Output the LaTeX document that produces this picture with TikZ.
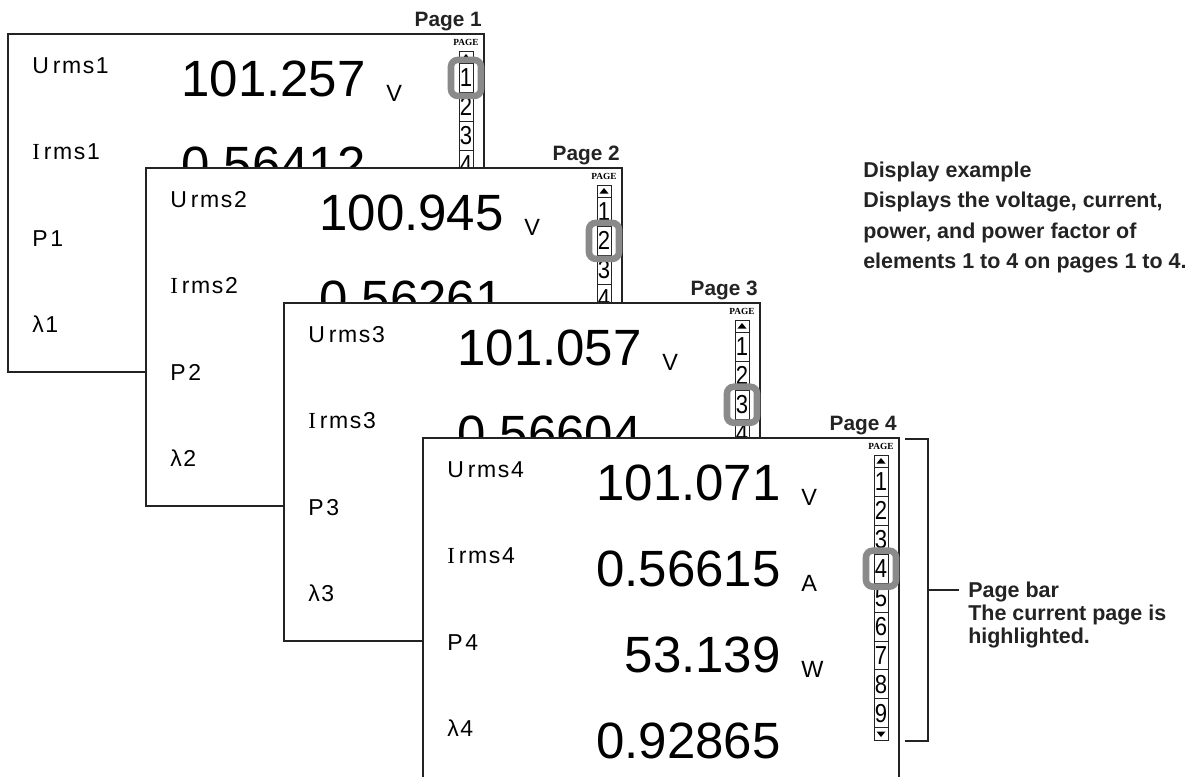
\documentclass[tikz,border=0pt]{standalone}
\usepackage{fontspec}
\setmainfont{Liberation Sans}
\newfontfamily\serifI{Liberation Serif}
\newfontfamily\narrowdig[FakeStretch=0.85]{Liberation Sans}
\newfontfamily\lblfont[LetterSpace=7]{Liberation Sans}
\definecolor{hlgray}{RGB}{138,138,138}
\definecolor{ink}{RGB}{35,35,35}
\tikzset{
 panelbox/.style={draw=ink, line width=1.6pt, fill=white, anchor=north west, minimum width=357pt, inner sep=0, outer sep=0},
 lbl/.style={anchor=base west, inner sep=0, font=\fontsize{17.25pt}{20pt}\lblfont},
 num/.style={anchor=base east, inner sep=0, font=\fontsize{38.25pt}{40pt}\selectfont},
 unit/.style={anchor=base west, inner sep=0, font=\fontsize{17.6pt}{20pt}\selectfont},
 pagelbl/.style={anchor=base east, inner sep=0, font=\fontsize{15.6pt}{18pt}\selectfont\bfseries, text=ink},
 pagetag/.style={inner sep=0, font=\fontsize{7pt}{8pt}\serifI\bfseries},
 barline/.style={draw=ink, line width=0.6pt},
 bardig/.style={inner sep=0, font=\fontsize{19.5pt}{20pt}\narrowdig},
 hlbox/.style={draw=hlgray, line width=4.9pt, rounded corners=5pt, minimum width=22.5pt, minimum height=27pt, inner sep=0},
 desc/.style={anchor=base west, inner sep=0, font=\fontsize{16.1pt}{20pt}\selectfont\bfseries, text=ink},
 bracket/.style={draw=ink, line width=1pt},
}
% #1 X, #2 Y, #3 page, #4 first value, #5 second value, #6 panel height, #7 last page cell drawn
\newcommand\drawpanel[7]{%
 \node[panelbox, minimum height=#6] (pan#3) at (#1,#2) {};
 \node[lbl] (u#3) at ({#1+24},{#2+39}) {U\kern3pt rms#3};
 \node[lbl] (i#3) at ({#1+24},{#2+125.5}) {{\serifI I}\kern3pt rms#3};
 \node[lbl] (p#3) at ({#1+24},{#2+212}) {P\kern2pt #3};
 \node[lbl] (l#3) at ({#1+24},{#2+298.5}) {λ#3};
 \node[num] (va#3) at ({#1+358},{#2+62}) {#4};
 \node[unit] (ua#3) at ({#1+378},{#2+67}) {V};
 \node[num] (vb#3) at ({#1+358},{#2+148}) {#5};
 \node[pagelbl] (t#3) at ({#1+474},{#2-8}) {Page #3};
 \node[pagetag] (pg#3) at ({#1+458},{#2+8}) {PAGE};
 \draw[barline] ({#1+451},{#2+17}) rectangle ({#1+465},{#2+29.5+#7*28.9});
 \foreach \k in {0,...,#7} {\draw[barline] ({#1+451},{#2+29.5+\k*28.9}) -- ++(14,0);}
 \foreach \k in {1,...,#7} {\node[bardig] (d#3-\k) at ({#1+458},{#2+29.5+(\k-0.5)*28.9}) {\k};}
 \fill[black] ({#1+458},{#2+20}) -- ({#1+462.5},{#2+25.5}) -- ({#1+453.5},{#2+25.5}) -- cycle;
 \node[hlbox] (h#3) at ({#1+458},{#2+29.5+(#3-0.5)*28.9}) {};
}
\begin{document}
\begin{tikzpicture}[x=0.75pt,y=-0.75pt]
\useasboundingbox (0,0) rectangle (1197,776);
\drawpanel{8}{34}{1}{101.257}{0.56412}{253.5pt}{4}
\drawpanel{146}{168}{2}{100.945}{0.56261}{253.5pt}{4}
\drawpanel{284}{303}{3}{101.057}{0.56604}{253.5pt}{4}
\drawpanel{423}{438}{4}{101.071}{0.56615}{258pt}{9}
% page-4 down cell
\draw[barline] (874,727.6) rectangle (888,740.6);
\fill[black] (881,737) -- (885.5,731.5) -- (876.5,731.5) -- cycle;
\node[unit] (ub4) at (801,591) {A};
\node[num] (vc4) at (781,672) {53.139};
\node[unit] (uc4) at (801,677) {W};
\node[num] (vd4) at (781,758) {0.92865};
% bracket
\coordinate (bt0) at (905,439);
\coordinate (bt1) at (928,439);
\coordinate (bb1) at (928,741);
\coordinate (bb0) at (905,741);
\coordinate (bm) at (928,590);
\coordinate (be) at (959,590);
\draw[bracket] (bt0) -- (bt1) -- (bb1) -- (bb0);
\draw[bracket] (bm) -- (be);
\node[desc] (pb1) at (968,597) {Page bar};
\node[desc] (pb2) at (968,620) {The current page is};
\node[desc] (pb3) at (968,643) {highlighted.};
\node[desc] (de1) at (863,177) {Display example};
\node[desc] (de2) at (863,207.5) {Displays the voltage, current,};
\node[desc] (de3) at (863,238) {power, and power factor of};
\node[desc] (de4) at (863,268.5) {elements 1 to 4 on pages 1 to 4.};
\end{tikzpicture}
\end{document}
